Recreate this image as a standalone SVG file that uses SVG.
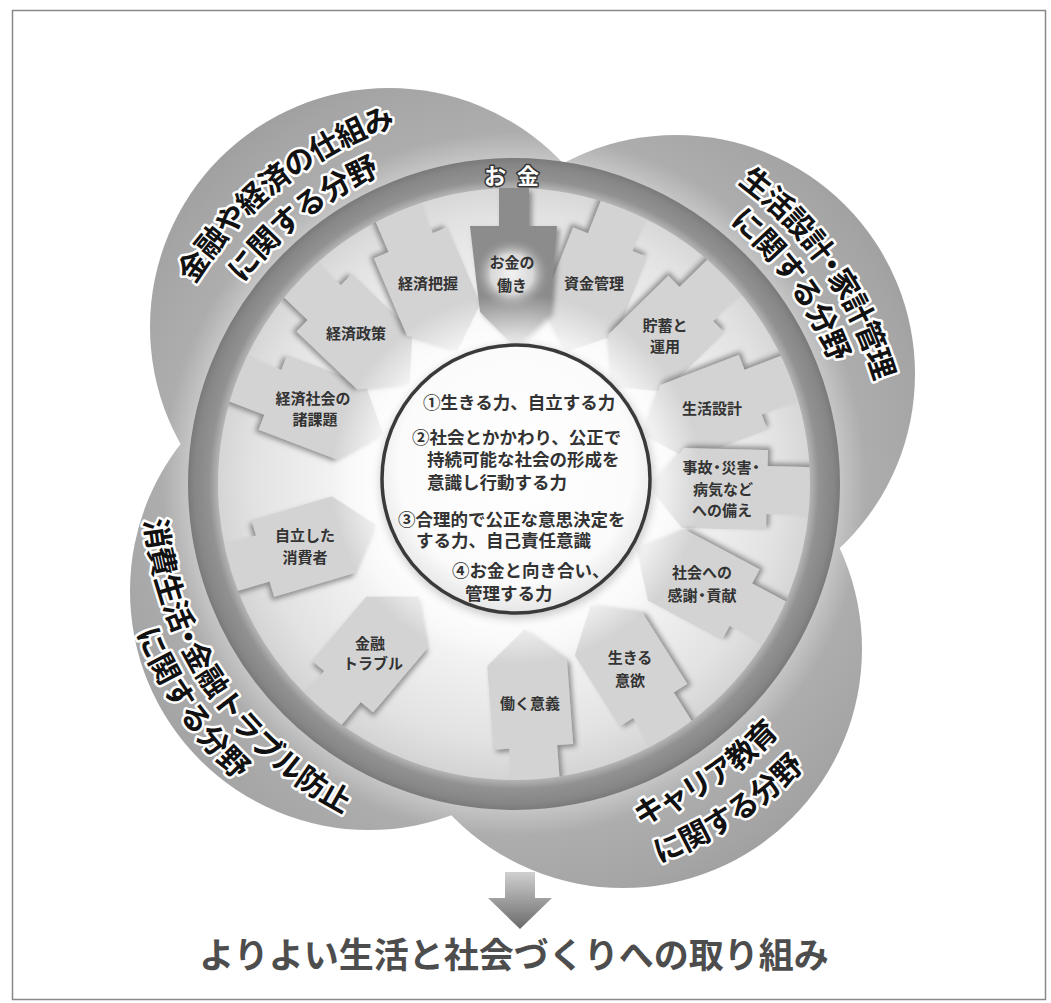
<svg xmlns="http://www.w3.org/2000/svg" width="1051" height="1003" viewBox="0 0 1051 1003">
<style>
.petal{fill:url(#petalGrad)}
.arrow{fill:#d3d3d3;filter:url(#shadow)}
.lbl{font-family:"Noto Sans CJK JP","Noto Sans CJK SC",sans-serif;font-size:15px;font-weight:700;fill:#333;text-anchor:middle}
.ctr{font-family:"Noto Sans CJK JP","Noto Sans CJK SC",sans-serif;font-size:17.5px;font-weight:700;fill:#333}
.field{font-family:"Noto Sans CJK JP","Noto Sans CJK SC",sans-serif;font-size:30px;font-weight:700;fill:#111;stroke:#fff;stroke-width:5;stroke-linejoin:round;paint-order:stroke;text-anchor:middle}
.money{font-family:"Noto Sans CJK JP","Noto Sans CJK SC",sans-serif;font-size:22px;font-weight:700;fill:#fff;stroke:#333;stroke-width:3;stroke-linejoin:round;paint-order:stroke;text-anchor:middle}
.bottom{font-family:"Noto Sans CJK JP","Noto Sans CJK SC",sans-serif;font-size:35px;font-weight:700;fill:#4d4d4d;text-anchor:middle}
</style>
<defs>
<radialGradient id="petalGrad" gradientUnits="userSpaceOnUse" cx="514" cy="484" r="460">
<stop offset="0.70" stop-color="#c8c8c8"/>
<stop offset="0.765" stop-color="#adadad"/>
<stop offset="0.9" stop-color="#a5a5a5"/>
<stop offset="1" stop-color="#9c9c9c"/>
</radialGradient>
<radialGradient id="ringGrad" gradientUnits="userSpaceOnUse" cx="514" cy="484" r="326">
<stop offset="0.905" stop-color="#b8b8b8"/>
<stop offset="0.935" stop-color="#929292"/>
<stop offset="0.98" stop-color="#868686"/>
<stop offset="1" stop-color="#7a7a7a"/>
</radialGradient>
<radialGradient id="diskGrad" gradientUnits="userSpaceOnUse" cx="516" cy="479" r="300">
<stop offset="0" stop-color="#ffffff"/>
<stop offset="0.55" stop-color="#f6f6f6"/>
<stop offset="0.88" stop-color="#e2e2e2"/>
<stop offset="1" stop-color="#d4d4d4"/>
</radialGradient>
<radialGradient id="glowGrad" gradientUnits="userSpaceOnUse" cx="516" cy="479" r="185">
<stop offset="0.7" stop-color="#ffffff" stop-opacity="0.95"/>
<stop offset="1" stop-color="#ffffff" stop-opacity="0"/>
</radialGradient>
<radialGradient id="centerGrad" cx="0.5" cy="0.45" r="0.55">
<stop offset="0" stop-color="#ffffff"/>
<stop offset="0.8" stop-color="#fbfbfb"/>
<stop offset="1" stop-color="#e6e6e6"/>
</radialGradient>
<radialGradient id="moneyGlow" cx="0.5" cy="0.5" r="0.5">
<stop offset="0" stop-color="#f2f2f2"/>
<stop offset="0.55" stop-color="#d8d8d8"/>
<stop offset="1" stop-color="#8e8e8e" stop-opacity="0"/>
</radialGradient>
<linearGradient id="downGrad" x1="0" y1="0" x2="0" y2="1">
<stop offset="0" stop-color="#d0d0d0"/>
<stop offset="1" stop-color="#6a6a6a"/>
</linearGradient>
<filter id="shadow" x="-30%" y="-30%" width="160%" height="160%">
<feDropShadow dx="3" dy="3" stdDeviation="2.5" flood-color="#555" flood-opacity="0.6"/>
</filter>
<filter id="soft" x="-20%" y="-20%" width="140%" height="140%">
<feGaussianBlur stdDeviation="4"/>
</filter>
<path id="arw" d="M0,-74 L40,-40 L40,44 L24,44 L24,92 L-24,92 L-24,44 L-40,44 L-40,-40 Z"/>
<path id="tlO" d="M140.9,537.8 A377,377 0 0 1 654.0,134.0"/>
<path id="tlI" d="M180.7,533.8 A337,337 0 0 1 637.5,170.5"/>
<path id="trO" d="M482.9,110.3 A375,375 0 0 1 853.2,644.0"/>
<path id="trI" d="M480.0,146.7 A339,339 0 0 1 823.1,623.2"/>
<path id="blO" d="M180.3,321.9 A371,371 0 0 0 540.5,854.1"/>
<path id="blI" d="M148.5,307.3 A406,406 0 0 0 543.7,888.9"/>
<path id="brO" d="M350.8,809.3 A364,364 0 0 0 877.4,462.7"/>
<path id="brI" d="M331.6,846.7 A406,406 0 0 0 919.3,460.6"/>
</defs>

<rect x="0" y="0" width="1051" height="1003" fill="#ffffff"/>
<rect x="12.5" y="10.5" width="1033" height="989" fill="none" stroke="#888" stroke-width="1.5"/>

<g id="petals">
<circle class="petal" cx="389" cy="327" r="239"/>
<circle class="petal" cx="676" cy="374" r="239"/>
<circle class="petal" cx="623" cy="649" r="239"/>
<circle class="petal" cx="369" cy="591" r="239"/>
</g>

<g id="inner-disk">
<circle cx="514" cy="484" r="300" fill="url(#diskGrad)"/>
</g>

<g id="arrows">
<g id="a-shikin"><use href="#arw" class="arrow" transform="translate(594,283) rotate(201.7)"/></g>
<g id="a-chochiku"><use href="#arw" class="arrow" transform="translate(665,335) rotate(225.4)"/></g>
<g id="a-seikatsu"><use href="#arw" class="arrow" transform="translate(712,408) rotate(249)"/></g>
<g id="a-jiko"><use href="#arw" class="arrow" transform="translate(723,489) rotate(-88.6)"/></g>
<g id="a-shakai"><use href="#arw" class="arrow" transform="translate(702,584) rotate(-62)"/></g>
<g id="a-ikiru"><use href="#arw" class="arrow" transform="translate(630,668) rotate(-32.2)"/></g>
<g id="a-hataraku"><use href="#arw" class="arrow" transform="translate(530,703) rotate(-4.2)"/></g>
<g id="a-trouble"><use href="#arw" class="arrow" transform="translate(371,653) rotate(40.2)"/></g>
<g id="a-jiritsu"><use href="#arw" class="arrow" transform="translate(305,546) rotate(73.5)"/></g>
<g id="a-kadai"><use href="#arw" class="arrow" transform="translate(314,408) rotate(110.8)"/></g>
<g id="a-seisaku"><use href="#arw" class="arrow" transform="translate(356,333) rotate(133.7)"/></g>
<g id="a-haaku"><use href="#arw" class="arrow" transform="translate(428,283) rotate(156.8)"/></g>
</g>

<g id="ring">
<circle cx="514" cy="484" r="311" fill="none" stroke="url(#ringGrad)" stroke-width="30"/>
</g>

<g id="a-okane">
<path d="M499,188 L529,188 L529,226 L557,226 L550,312 L515,347 L480,312 L470,226 L499,226 Z" fill="#8c8c8c" filter="url(#shadow)"/>
<ellipse cx="512" cy="274" rx="38" ry="36" fill="url(#moneyGlow)"/>
<text class="lbl"><tspan x="512" y="267.5">お金の</tspan><tspan x="512" y="290.5">働き</tspan></text>
<text class="money"><tspan x="495" y="184">お</tspan><tspan x="528" y="184">金</tspan></text>
</g>

<g id="glow">
<circle cx="516" cy="479" r="185" fill="url(#glowGrad)"/>
</g>

<g id="center">
<circle cx="517" cy="482" r="137" fill="#9a9a9a" opacity="0.5" filter="url(#soft)"/>
<circle cx="516" cy="479" r="134" fill="url(#centerGrad)" stroke="#3a3a3a" stroke-width="3.5"/>
<text class="ctr" x="423" y="409">①生きる力、自立する力</text>
<text class="ctr" x="412" y="444">②社会とかかわり、公正で</text>
<text class="ctr" x="427" y="466">持続可能な社会の形成を</text>
<text class="ctr" x="427" y="489">意識し行動する力</text>
<text class="ctr" x="398" y="526">③合理的で公正な意思決定を</text>
<text class="ctr" x="416" y="547">する力、自己責任意識</text>
<text class="ctr" x="452" y="577">④お金と向き合い、</text>
<text class="ctr" x="465" y="600">管理する力</text>
</g>

<g id="labels">
<text class="lbl" x="428" y="288.5">経済把握</text>
<text class="lbl" x="594" y="288.5">資金管理</text>
<text class="lbl" x="356" y="338.5">経済政策</text>
<text class="lbl"><tspan x="313" y="403.5">経済社会の</tspan><tspan x="315" y="424.5">諸課題</tspan></text>
<text class="lbl"><tspan x="665" y="330.5">貯蓄と</tspan><tspan x="665" y="351.5">運用</tspan></text>
<text class="lbl" x="712" y="413.5">生活設計</text>
<text class="lbl"><tspan x="723" y="472.5">事故<tspan dx="-3">・</tspan><tspan dx="-3">災害</tspan><tspan dx="-3">・</tspan></tspan><tspan x="723" y="494.5">病気など</tspan><tspan x="722" y="515.5">への備え</tspan></text>
<text class="lbl"><tspan x="305" y="540.5">自立した</tspan><tspan x="305" y="562.5">消費者</tspan></text>
<text class="lbl"><tspan x="370" y="648.5">金融</tspan><tspan x="373" y="668.5">トラブル</tspan></text>
<text class="lbl"><tspan x="702" y="577.5">社会への</tspan><tspan x="702" y="600.5">感謝<tspan dx="-3">・</tspan><tspan dx="-3">貢献</tspan></tspan></text>
<text class="lbl"><tspan x="630" y="662.5">生きる</tspan><tspan x="630" y="685.5">意欲</tspan></text>
<text class="lbl" x="530" y="708.5">働く意義</text>
</g>

<g id="fields">
<g id="field-keizai">
<text class="field" letter-spacing="-1"><textPath href="#tlO" startOffset="50%">金融や経済の仕組み</textPath></text>
<text class="field" letter-spacing="-0.5"><textPath href="#tlI" startOffset="50%">に関する分野</textPath></text>
</g>
<g id="field-seikatsu">
<text class="field" letter-spacing="-1.5"><textPath href="#trO" startOffset="50%">生活設計<tspan dx="-6">・</tspan><tspan dx="-6">家計管理</tspan></textPath></text>
<text class="field" letter-spacing="-0.8"><textPath href="#trI" startOffset="50%">に関する分野</textPath></text>
</g>
<g id="field-shohi">
<text class="field" letter-spacing="-0.7"><textPath href="#blO" startOffset="50%">消費生活<tspan dx="-6">・</tspan><tspan dx="-6">金融トラブル防止</tspan></textPath></text>
<text class="field" letter-spacing="0"><textPath href="#blI" startOffset="50%">に関する分野</textPath></text>
</g>
<g id="field-career">
<text class="field" letter-spacing="-2"><textPath href="#brO" startOffset="50%">キャリア教育</textPath></text>
<text class="field" letter-spacing="-0.8"><textPath href="#brI" startOffset="50%">に関する分野</textPath></text>
</g>
</g>

<g id="connectors">
<path d="M505,872 L535,872 L535,898 L552,898 L520,929 L488,898 L505,898 Z" fill="url(#downGrad)"/>
</g>

<g id="result">
<text class="bottom" x="514" y="968">よりよい生活と社会づくりへの取り組み</text>
</g>
</svg>
